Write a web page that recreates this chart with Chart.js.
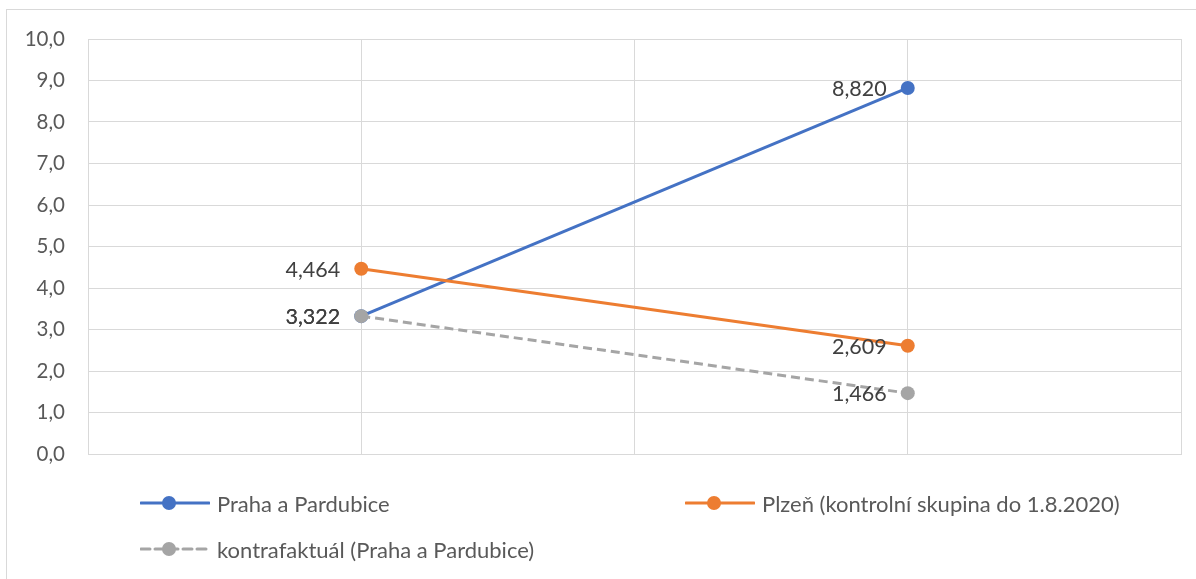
<!DOCTYPE html>
<html>
<head>
<meta charset="utf-8">
<script src="https://cdn.jsdelivr.net/npm/chart.js@4.4.1/dist/chart.umd.min.js"></script>
<style>
  html, body { margin: 0; padding: 0; background: #fff; }
  #wrap { position: relative; width: 1196px; height: 579px; overflow: hidden; }
  #frame { position: absolute; left: 6px; top: 9px; width: 1200px; height: 600px; border: 1px solid #d9d9d9; box-sizing: border-box; }
  canvas { position: absolute; left: 0; top: 0; }
  .leg { position: absolute; font-family: Lato, "Open Sans", sans-serif; font-size: 22px; color: #595959; display: flex; align-items: center; white-space: nowrap; }
  .leg svg { margin-right: 7px; }
</style>
</head>
<body>
<div id="wrap">
  <div id="frame"></div>
  <canvas id="c" width="1196" height="579"></canvas>
  <div id="legend"></div>
</div>
<script>
const xPositions = [1, 3];
const seriesNames = ["Praha a Pardubice", "Plzeň (kontrolní skupina do 1.8.2020)", "kontrafaktuál (Praha a Pardubice)"];
const prahaValues = [3.322, 8.820];
const plzenValues = [4.464, 2.609];
const kontraValues = [3.322, 1.466];
const yTicks = [0, 1, 2, 3, 4, 5, 6, 7, 8, 9, 10];

const colors = ["#4472C4", "#ED7D31", "#A5A5A5"];
const dashes = [[], [], [9, 5]];
const allValues = [prahaValues, plzenValues, kontraValues];

const fmt = v => v.toFixed(3).replace('.', ',');

const labelPlugin = {
  id: 'pointLabels',
  afterDatasetsDraw(chart) {
    const ctx = chart.ctx;
    ctx.save();
    ctx.font = '21.5px Lato, "Open Sans", sans-serif';
    ctx.fillStyle = '#404040';
    ctx.textAlign = 'right';
    ctx.textBaseline = 'middle';
    chart.data.datasets.forEach((ds, i) => {
      const meta = chart.getDatasetMeta(i);
      meta.data.forEach((pt, j) => {
        ctx.fillText(fmt(ds.data[j].y), pt.x - 21, pt.y + 1);
      });
    });
    ctx.restore();
  }
};

const datasets = allValues.map((vals, i) => ({
  label: seriesNames[i],
  data: vals.map((v, j) => ({ x: xPositions[j], y: v })),
  borderColor: colors[i],
  backgroundColor: colors[i],
  borderWidth: 3,
  borderDash: dashes[i],
  pointRadius: 7,
  pointHoverRadius: 7,
  pointBorderWidth: 0,
  pointBackgroundColor: colors[i],
  showLine: true,
  order: i === 2 ? 0 : (i === 0 ? 2 : 1)
}));

new Chart(document.getElementById('c'), {
  type: 'scatter',
  data: { datasets },
  options: {
    responsive: false,
    animation: false,
    layout: { padding: { left: 0, top: 39, right: 15, bottom: 125 } },
    plugins: { legend: { display: false }, tooltip: { enabled: false } },
    scales: {
      x: {
        type: 'linear', min: 0, max: 4,
        ticks: { display: false, stepSize: 1 },
        grid: { color: '#d9d9d9', lineWidth: 1, drawTicks: false },
        border: { color: '#d9d9d9', width: 1 },
        afterFit(s) { s.height = 0; }
      },
      y: {
        min: 0, max: 10,
        afterBuildTicks(s) { s.ticks = yTicks.map(v => ({ value: v })); },
        ticks: {
          padding: 23,
          color: '#595959',
          font: { family: 'Lato, "Open Sans", sans-serif', size: 20.5 },
          callback: v => v.toFixed(1).replace('.', ',')
        },
        grid: { color: '#d9d9d9', lineWidth: 1, drawTicks: false },
        border: { color: '#d9d9d9', width: 1 },
        afterFit(s) { s.width = 88; }
      }
    }
  },
  plugins: [labelPlugin]
});

// HTML legend
const legendPos = [
  { left: 140, top: 503 },
  { left: 685, top: 503 },
  { left: 140, top: 549 }
];
const legend = document.getElementById('legend');
seriesNames.forEach((name, i) => {
  const d = document.createElement('div');
  d.className = 'leg';
  d.style.left = legendPos[i].left + 'px';
  d.style.top = (legendPos[i].top - 14) + 'px';
  d.style.height = '28px';
  const dash = dashes[i].length ? `stroke-dasharray="${dashes[i].join(' ')}"` : '';
  d.innerHTML = `<svg width="70" height="28"><line x1="1" y1="14" x2="69" y2="14" stroke="${colors[i]}" stroke-width="3" stroke-linecap="round" ${dash}/><circle cx="29" cy="14" r="7" fill="${colors[i]}"/></svg><span>${name}</span>`;
  legend.appendChild(d);
});
</script>
</body>
</html>
